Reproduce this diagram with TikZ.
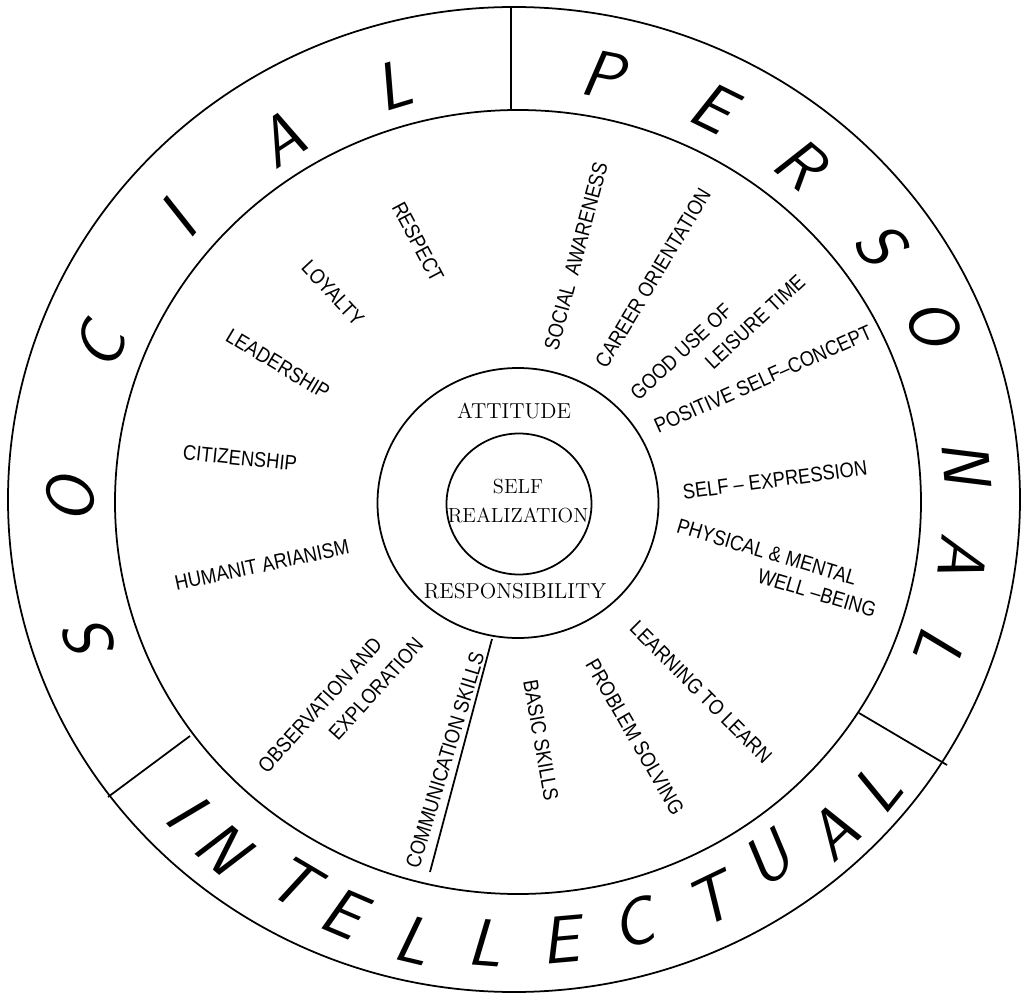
\documentclass[tikz,border=0pt]{standalone}
\usepackage{fontspec}
\newfontfamily\lblfont[FakeStretch=0.87]{Liberation Sans}

\begin{document}
\begin{tikzpicture}[
    x=0.02cm, y=0.02cm,
    line width=1pt,
    ringletter/.style={font=\fontsize{38}{38}\selectfont\sffamily\slshape, inner sep=0pt},
    value/.style={font=\lblfont\fontsize{12}{12}\selectfont, inner sep=0pt},
    core/.style={font=\fontsize{12.3}{12.3}\selectfont, inner sep=0pt, align=center}
]
\useasboundingbox (-518,-492) rectangle (503,502);

% rings
\draw (-4,2.5) ellipse [x radius=506, y radius=492.5];
\draw (0,0) ellipse [x radius=403, y radius=392];
\draw (0,-1) ellipse [x radius=140.5, y radius=135];
\draw (1,-2) ellipse [x radius=72.5, y radius=70.5];

% dividers
\draw (-7,392) -- (-7,495);
\draw (-328,-234) -- (-410,-295);
\draw (341,-211) -- (429,-263);
\draw (-26,-137) -- (-88,-370);

% SOCIAL
\node[ringletter, rotate=108.2] (soc1) at (-428,-141) {S};
\node[ringletter, rotate=89.7] (soc2) at (-448,2) {O};
\node[ringletter, rotate=69.7] (soc3) at (-418,155) {C};
\node[ringletter, rotate=50.4] (soc4) at (-341,282) {I};
\node[ringletter, rotate=33.3] (soc5) at (-238,362) {A};
\node[ringletter, rotate=16.7] (soc6) at (-125,417) {L};

% PERSONAL
\node[ringletter, rotate=-11.3] (per1) at (85,427) {P};
\node[ringletter, rotate=-26.3] (per2) at (195,395) {E};
\node[ringletter, rotate=-39.8] (per3) at (282,339) {R};
\node[ringletter, rotate=-54.4] (per4) at (362,259) {S};
\node[ringletter, rotate=-66.7] (per5) at (415,179) {O};
\node[ringletter, rotate=-85] (per6) at (449,39) {N};
\node[ringletter, rotate=-96.9] (per7) at (445,-54) {A};
\node[ringletter, rotate=-109] (per8) at (422,-145) {L};

% INTELLECTUAL
\node[ringletter, rotate=-47.2] (int1) at (-333,-308) {I};
\node[ringletter, rotate=-40.6] (int2) at (-296,-345) {N};
\node[ringletter, rotate=-30.6] (int3) at (-225,-380) {T};
\node[ringletter, rotate=-23.1] (int4) at (-175,-411) {E};
\node[ringletter, rotate=-13.5] (int5) at (-105,-438) {L};
\node[ringletter, rotate=-4.5] (int6) at (-33,-441) {L};
\node[ringletter, rotate=5.1] (int7) at (42,-438) {E};
\node[ringletter, rotate=15.3] (int8) at (115,-421) {C};
\node[ringletter, rotate=25.8] (int9) at (192,-398) {T};
\node[ringletter, rotate=34.8] (int10) at (249,-358) {U};
\node[ringletter, rotate=43.6] (int11) at (315,-331) {A};
\node[ringletter, rotate=51.3] (int12) at (359,-288) {L};

% values, social side
\node[value, rotate=-62] (respect) at (-100,260) {RESPECT};
\node[value, rotate=-47] (loyalty) at (-185,209) {LOYALTY};
\node[value, rotate=-31] (leader) at (-240,138) {LEADERSHIP};
\node[value, rotate=-6] (citizen) at (-278,44) {CITIZENSHIP};
\node[value, rotate=12] (human) at (-256,-63) {HUMANIT\kern3pt ARIANISM};

% values, intellectual side
\node[value, rotate=48] (observ) at (-198,-203) {OBSERVATION AND};
\node[value, rotate=48] (explor) at (-142,-187) {EXPLORATION};
\node[value, rotate=73] (commun) at (-73,-258) {COMMUNICATION SKILLS};
\node[value, rotate=-80] (basic) at (23,-238) {BASIC SKILLS};
\node[value, rotate=-60] (problem) at (117,-235) {PROBLEM SOLVING};
\node[value, rotate=-45] (learn) at (183,-190) {LEARNING TO LEARN};

% values, personal side
\node[value, rotate=-16.5] (physic) at (249,-50) {PHYSICAL \& MENTAL};
\node[value, rotate=-16.5] (wellb) at (299,-91) {WELL –BEING};
\node[value, rotate=7.5] (express) at (257,22) {SELF – EXPRESSION};
\node[value, rotate=24] (concept) at (245,123) {POSITIVE SELF–CONCEPT};
\node[value, rotate=43] (gooduse) at (163,150) {GOOD USE OF};
\node[value, rotate=43] (leisure) at (237,180) {LEISURE TIME};
\node[value, rotate=59] (career) at (135,224) {CAREER ORIENTATION};
\node[value, rotate=75] (aware) at (58,246) {SOCIAL \ AWARENESS};

% core
\node[core] (attitude) at (-4,91) {ATTITUDE};
\node[core] (respons) at (-3,-89) {RESPONSIBILITY};
\node[core, font=\fontsize{11.6}{16.7}\selectfont] (selfreal) at (0,1) {SELF\\REALIZATION};
\end{tikzpicture}
\end{document}
